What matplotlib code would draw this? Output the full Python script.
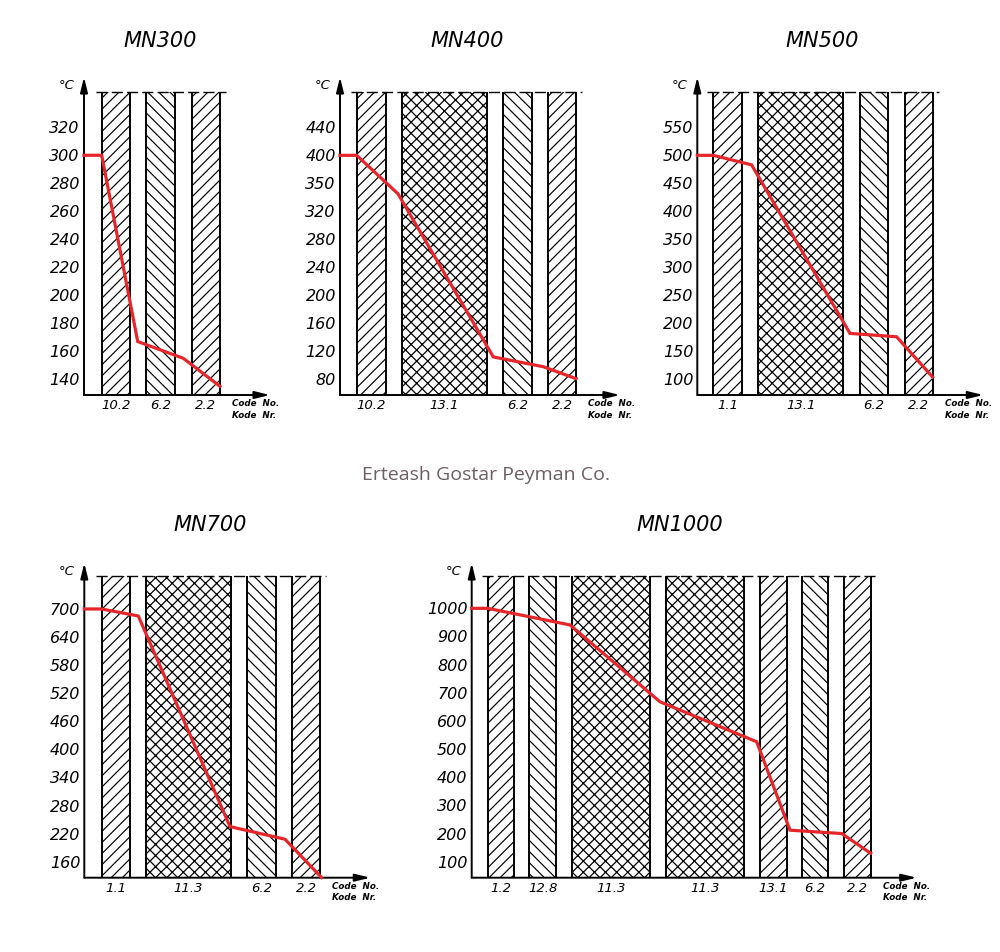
import numpy as np
import matplotlib.pyplot as plt

plt.rcParams['font.family'] = 'DejaVu Sans'
plt.rcParams['hatch.linewidth'] = 0.9

# ---- data: layer codes, layer edges (along the wall), temperature profile ----
mn300_codes = ["10.2", "6.2", "2.2"]
mn300_left = [17.7, 62.0, 107.7]
mn300_width = [28.0, 29.0, 28.3]
mn300_kind = ["/", "\\", "/"]
mn300_x = [0, 17.7, 53.7, 99.3, 136.0]
mn300_temp = [300, 300, 167, 155, 135]
mn300_ticks = [140, 160, 180, 200, 220, 240, 260, 280, 300, 320]
mn300_labels = ["140", "160", "180", "200", "220", "240", "260", "280", "300", "320"]

mn400_codes = ["10.2", "13.1", "6.2", "2.2"]
mn400_left = [16.7, 61.7, 163.3, 208.3]
mn400_width = [29.0, 85.0, 28.4, 27.7]
mn400_kind = ["/", "x", "\\", "/"]
mn400_x = [0, 16.7, 58.0, 153.3, 203.3, 236.0]
mn400_temp = [400, 400, 345, 112, 98, 81]
mn400_ticks = [80, 120, 160, 200, 240, 280, 320, 360, 400, 440]
mn400_labels = ["80", "120", "160", "200", "240", "280", "320", "350", "400", "440"]

mn500_codes = ["1.1", "13.1", "6.2", "2.2"]
mn500_left = [16.0, 61.0, 162.7, 207.7]
mn500_width = [28.3, 85.0, 28.3, 27.6]
mn500_kind = ["/", "x", "\\", "/"]
mn500_x = [0, 16.0, 54.3, 152.7, 199.3, 235.3]
mn500_temp = [500, 500, 483, 182, 176, 104]
mn500_ticks = [100, 150, 200, 250, 300, 350, 400, 450, 500, 550]
mn500_labels = ["100", "150", "200", "250", "300", "350", "400", "450", "500", "550"]

mn700_codes = ["1.1", "11.3", "6.2", "2.2"]
mn700_left = [17.3, 61.7, 163.0, 208.0]
mn700_width = [28.4, 85.0, 28.3, 27.7]
mn700_kind = ["/", "x", "\\", "/"]
mn700_x = [0, 17.3, 54.0, 145.7, 200.7, 237.3]
mn700_temp = [700, 700, 685, 235, 208, 126]
mn700_ticks = [160, 220, 280, 340, 400, 460, 520, 580, 640, 700]
mn700_labels = ["160", "220", "280", "340", "400", "460", "520", "580", "640", "700"]

mn1000_codes = ["1.2", "12.8", "11.3", "11.3", "13.1", "6.2", "2.2"]
mn1000_left = [16.0, 57.7, 100.0, 194.3, 288.3, 330.0, 372.3]
mn1000_width = [26.7, 26.6, 78.3, 78.4, 26.7, 26.7, 26.7]
mn1000_kind = ["/", "\\", "x", "x", "/", "\\", "/"]
mn1000_x = [0, 16.0, 98.3, 188.3, 285.0, 318.3, 370.0, 399.0]
mn1000_temp = [1000, 1000, 941, 668, 526, 212, 200, 130]
mn1000_ticks = [100, 200, 300, 400, 500, 600, 700, 800, 900, 1000]
mn1000_labels = ["100", "200", "300", "400", "500", "600", "700", "800", "900", "1000"]

hatch_map = {"/": "///", "\\": "\\\\\\", "x": "xxx"}
hatch_lw = {"/": 0.85, "\\": 0.85, "x": 0.9}
W, H = 1000, 952


def draw_panel(fig, box, ylim, ytop, title, title_xy, codes, left, width, kind,
               xs, temps, ticks, labels):
    x0, top, w, bottom = box
    ax = fig.add_axes([x0 / W, (H - bottom) / H, w / W, (bottom - top) / H])
    ax.set_xlim(0, w)
    ax.set_ylim(*ylim)
    for s in ax.spines.values():
        s.set_visible(False)
    ax.patch.set_alpha(0)

    # layers
    for l, wd, k in zip(left, width, kind):
        bars = ax.bar(l, ytop - ylim[0], width=wd, bottom=ylim[0], align='edge',
                      color='none', edgecolor='black', linewidth=0,
                      hatch=hatch_map[k])
        for p in bars:
            if hasattr(p, 'set_hatch_linewidth'):
                p.set_hatch_linewidth(hatch_lw[k])
        ax.vlines([l, l + wd], ylim[0], ytop, color='black', lw=1.4)
    ax.hlines(ytop, left[0] - 6, left[-1] + width[-1] + 6, color='black',
              lw=1.0, linestyles=(0, (8, 3)))

    # temperature profile
    ax.plot(xs, temps, color='#e5262b', lw=2.3, clip_on=False, zorder=5,
            solid_joinstyle='miter')

    # axes with arrows
    arrow = dict(arrowstyle='-|>,head_length=0.9,head_width=0.22', lw=1.4,
                 color='black', shrinkA=0, shrinkB=0, mutation_scale=10)
    ax.annotate('', xy=(0, 1), xytext=(0, 0), xycoords='axes fraction', arrowprops=arrow)
    ax.annotate('', xy=(1, 0), xytext=(0, 0), xycoords='axes fraction', arrowprops=arrow)

    ax.set_yticks(ticks)
    ax.set_yticklabels(labels, fontsize=11.5, fontstyle='italic')
    ax.tick_params(axis='y', length=0, pad=3)
    ax.set_xticks([l + wd / 2 for l, wd in zip(left, width)])
    ax.set_xticklabels(codes, fontsize=9.5, fontstyle='italic')
    ax.tick_params(axis='x', length=0, pad=3)

    ax.annotate('°C', xy=(0, 1), xycoords='axes fraction', xytext=(-7, -6),
                textcoords='offset points', ha='right', va='center',
                fontsize=9.5, fontstyle='italic')
    ax.annotate('Code  No.\nKode  Nr.', xy=(left[-1] + width[-1] + 12, 0),
                xycoords=ax.get_xaxis_transform(), xytext=(0, -3),
                textcoords='offset points', ha='left', va='top', fontsize=6.3,
                fontweight='bold', fontstyle='italic', linespacing=1.35)

    fig.text(title_xy[0] / W, 1 - title_xy[1] / H, title, fontsize=15,
             fontstyle='italic', ha='center', va='center')
    return ax


fig = plt.figure(figsize=(10, 9.52), dpi=100)

draw_panel(fig, (84, 77, 186, 395), (128.8, 355.9), 345, "MN300", (160, 41),
           mn300_codes, mn300_left, mn300_width, mn300_kind, mn300_x, mn300_temp,
           mn300_ticks, mn300_labels)
draw_panel(fig, (340, 77, 280, 395), (57.6, 511.9), 490.4, "MN400", (467, 41),
           mn400_codes, mn400_left, mn400_width, mn400_kind, mn400_x, mn400_temp,
           mn400_ticks, mn400_labels)
draw_panel(fig, (697.3, 77, 286, 395), (72.0, 639.9), 613, "MN500", (822, 41),
           mn500_codes, mn500_left, mn500_width, mn500_kind, mn500_x, mn500_temp,
           mn500_ticks, mn500_labels)
draw_panel(fig, (84.3, 563, 286, 877.7), (125.8, 798.2), 771, "MN700", (210, 525),
           mn700_codes, mn700_left, mn700_width, mn700_kind, mn700_x, mn700_temp,
           mn700_ticks, mn700_labels)
draw_panel(fig, (471.7, 563, 445, 877.7), (43.2, 1161.0), 1115.8, "MN1000", (680, 525),
           mn1000_codes, mn1000_left, mn1000_width, mn1000_kind, mn1000_x, mn1000_temp,
           mn1000_ticks, mn1000_labels)

fig.text(486 / W, 1 - 475 / H, "Erteash Gostar Peyman Co.", fontsize=14,
         family='Open Sans', color='#6d5e66', ha='center', va='center')

fig.savefig('out.png', dpi=100)
